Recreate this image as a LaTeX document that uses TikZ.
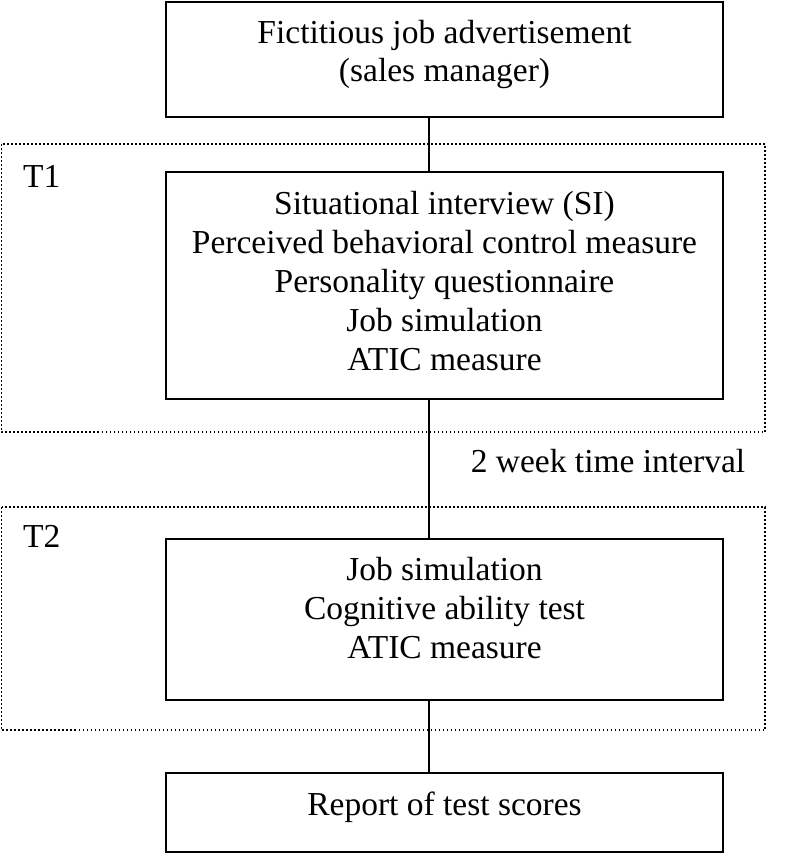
\documentclass[tikz,border=0pt]{standalone}
\usepackage{fontspec}
\setmainfont{Liberation Serif}
\usepackage{tikz}

\begin{document}
\begin{tikzpicture}[x=1pt, y=-1pt, every node/.style={font=\fontsize{33.5}{38.8}\selectfont},
    stage/.style={draw, rectangle, line width=2pt, minimum width=557pt, inner sep=0pt},
    words/.style={align=center, inner sep=0pt, anchor=base},
    phase/.style={draw, line width=1.8pt, dash pattern=on 1.8pt off 2.2pt},
    tag/.style={inner sep=0pt, anchor=base west}]
    \useasboundingbox (0,0) rectangle (786,853);

    % Time frames
    \draw[phase] (1.5,144) rectangle (765,432);
    \draw[phase] (1.5,507) rectangle (765,730);
    \node[tag] (t1) at (23,187) {T1};
    \node[tag] (t2) at (23,547) {T2};

    % Stage boxes
    \node[stage, minimum height=115pt] (advert) at (444.5,59.5) {};
    \node[stage, minimum height=227pt] (session1) at (444.5,285.5) {};
    \node[stage, minimum height=161pt] (session2) at (444.5,619.5) {};
    \node[stage, minimum height=79pt] (report) at (444.5,812.5) {};

    % Box texts (last baseline)
    \node[words] (advert-txt) at (444.5,82) {Fictitious job advertisement\\(sales manager)};
    \node[words] (session1-txt) at (444.5,370) {Situational interview (SI)\\Perceived behavioral control measure\\Personality questionnaire\\Job simulation\\ATIC measure};
    \node[words] (session2-txt) at (444.5,658) {Job simulation\\Cognitive ability test\\ATIC measure};
    \node[words] (report-txt) at (444.5,815) {Report of test scores};

    % Interval label
    \node[inner sep=0pt, anchor=base] (interval) at (608,472) {2 week time interval};

    % Edges
    \coordinate (spine) at (429,0);
    \draw[line width=1.6pt] (advert.south -| spine) -- (session1.north -| spine);
    \draw[line width=1.6pt] (session1.south -| spine) -- (session2.north -| spine);
    \draw[line width=1.6pt] (session2.south -| spine) -- (report.north -| spine);
\end{tikzpicture}
\end{document}
